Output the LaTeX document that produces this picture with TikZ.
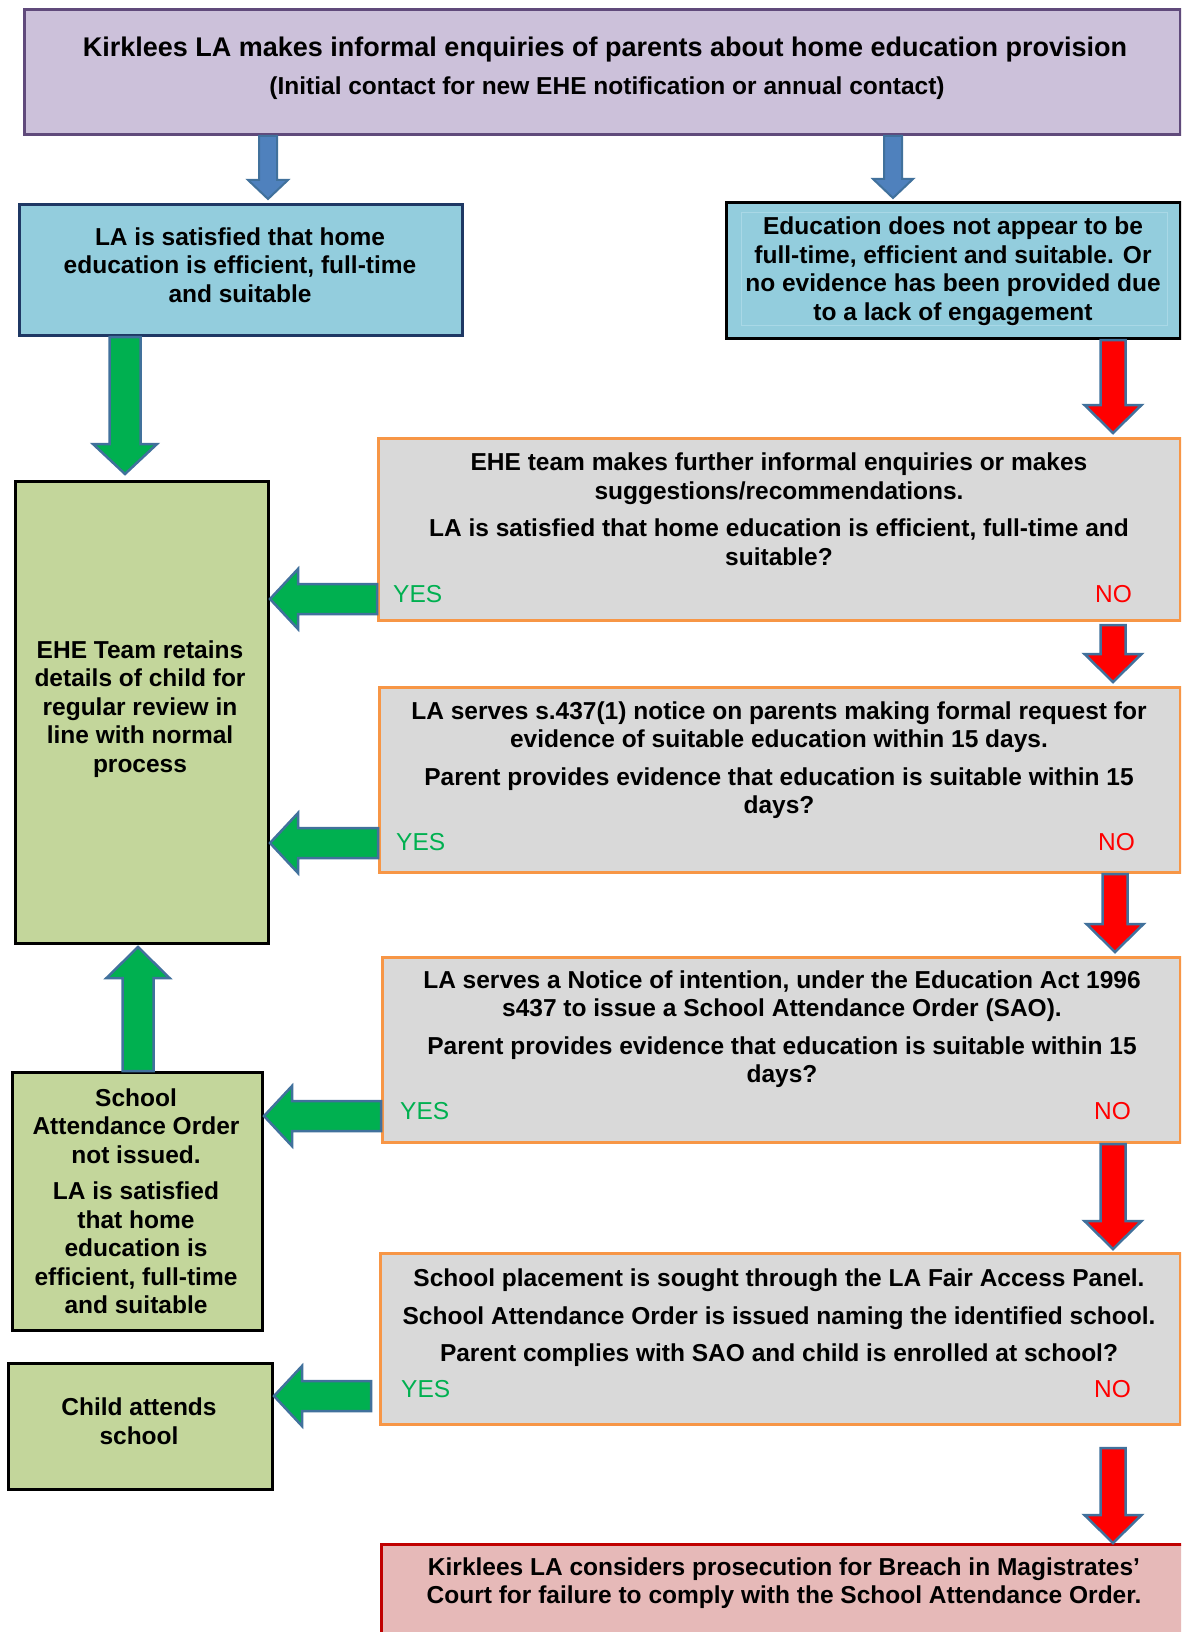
\documentclass[tikz,border=0pt]{standalone}
\usepackage{fontspec}
\setmainfont{Liberation Sans}
\usetikzlibrary{calc}
\definecolor{purpfill}{HTML}{CCC1DA}
\definecolor{purpline}{HTML}{604A7B}
\definecolor{aquafill}{HTML}{93CDDD}
\definecolor{navyline}{HTML}{1F3864}
\definecolor{aquainner}{HTML}{A9D8E6}
\definecolor{grayfill}{HTML}{D9D9D9}
\definecolor{orangeline}{HTML}{F79646}
\definecolor{greenfill}{HTML}{C3D69B}
\definecolor{pinkfill}{HTML}{E6B9B8}
\definecolor{darkred}{HTML}{C00000}
\definecolor{arrblue}{HTML}{4F81BD}
\definecolor{arroutline}{HTML}{41719C}
\definecolor{yesgreen}{HTML}{00B050}
\definecolor{nored}{HTML}{FF0000}
% vertical block arrow: style, from, to(tip), shaft half, head half, head length
\newcommand\vblock[6]{\draw[#1] let \p1=#2, \p2=#3, \n1={sign(\y2-\y1)} in
  ({\x1-#4},{\y1}) -- ({\x1-#4},{\y2-(\n1)*#6}) -- ({\x1-#5},{\y2-(\n1)*#6}) --
  ({\x1},{\y2}) -- ({\x1+#5},{\y2-(\n1)*#6}) -- ({\x1+#4},{\y2-(\n1)*#6}) --
  ({\x1+#4},{\y1}) -- cycle;}
% horizontal block arrow
\newcommand\hblock[6]{\draw[#1] let \p1=#2, \p2=#3, \n1={sign(\x2-\x1)} in
  ({\x1},{\y1-#4}) -- ({\x2-(\n1)*#6},{\y1-#4}) -- ({\x2-(\n1)*#6},{\y1-#5}) --
  ({\x2},{\y1}) -- ({\x2-(\n1)*#6},{\y1+#5}) -- ({\x2-(\n1)*#6},{\y1+#4}) --
  ({\x1},{\y1+#4}) -- cycle;}
\tikzset{
  box/.style={rectangle, line width=3pt, inner sep=0pt, anchor=north west},
  purplebox/.style={box, fill=purpfill, draw=purpline},
  aquabox/.style={box, fill=aquafill, draw=navyline},
  aquablackbox/.style={box, fill=aquafill, draw=black},
  graybox/.style={box, fill=grayfill, draw=orangeline},
  greenbox/.style={box, fill=greenfill, draw=black},
  pinkbox/.style={box, fill=pinkfill, draw=darkred},
  txt/.style={align=center, inner sep=0pt, font=\fontsize{24.5}{28.5}\selectfont\bfseries},
  yeslbl/.style={inner sep=0pt, text=yesgreen, font=\fontsize{24.5}{28}\selectfont, anchor=west},
  nolbl/.style={inner sep=0pt, text=nored, font=\fontsize{24.5}{28}\selectfont, anchor=east},
  barrow/.style={fill=arrblue, draw=arroutline, line width=2pt, line join=miter},
  garrow/.style={fill=yesgreen, draw=arroutline, line width=2.5pt, line join=miter},
  rarrow/.style={fill=nored, draw=arroutline, line width=2.5pt, line join=miter},
}
\begin{document}
\begin{tikzpicture}[x=1pt,y=-1pt]
\clip (0,0) rectangle (1181,1632);
\fill[white] (0,0) rectangle (1181,1632);

% boxes
\node[purplebox, minimum width=1156pt, minimum height=125pt] (top) at (23,8) {};
\node[aquabox, minimum width=443pt, minimum height=131pt] (lb) at (18,203) {};
\node[aquablackbox, minimum width=454pt, minimum height=136pt] (rb) at (725,201) {};
\draw[aquainner, line width=1pt] (741,212) rectangle (1167,325);
\node[graybox, minimum width=802pt, minimum height=182pt] (g1) at (377,437) {};
\node[greenbox, minimum width=253pt, minimum height=462pt] (gr1) at (14,480) {};
\node[graybox, minimum width=801pt, minimum height=185pt] (g2) at (378,686) {};
\node[graybox, minimum width=798pt, minimum height=185pt] (g3) at (381,956) {};
\node[greenbox, minimum width=250pt, minimum height=258pt] (gr2) at (11,1071) {};
\node[graybox, minimum width=800pt, minimum height=171pt] (g4) at (379,1252) {};
\node[greenbox, minimum width=264pt, minimum height=126pt] (gr3) at (7,1362) {};
\node[pinkbox, minimum width=810pt, minimum height=100pt] (rd) at (380,1543) {};

% texts
\node[txt, font=\fontsize{27}{30}\selectfont\bfseries] (toptxt1) at (605,50) {Kirklees LA makes informal enquiries of parents about home education provision};
\node[txt] (toptxt2) at (607,88) {(Initial contact for new EHE notification or annual contact)};
\node[txt] (lbtxt) at (240,265) {LA is satisfied that home\\education is efficient, full-time\\and suitable};
\node[txt] (rbtxt) at (953,271) {Education does not appear to be\\full-time, efficient and suitable. Or\\no evidence has been provided due\\to a lack of engagement};
\node[txt] (g1txt) at (779,509) {EHE team makes further informal enquiries or makes\\suggestions/recommendations.\\[9pt]LA is satisfied that home education is efficient, full-time and\\suitable?};
\node[yeslbl] (g1yes) at (393,594) {YES};
\node[nolbl] (g1no) at (1132,594) {NO};
\node[txt] (gr1txt) at (140,709) {EHE Team retains\\details of child for\\regular review in\\line with normal\\process};
\node[txt] (g2txt) at (779,760) {LA serves s.437(1) notice on parents making formal request for\\evidence of suitable education within 15 days.\\[9pt]Parent provides evidence that education is suitable within 15\\days?};
\node[yeslbl] (g2yes) at (396,842) {YES};
\node[nolbl] (g2no) at (1135,842) {NO};
\node[txt] (g3txt) at (782,1029) {LA serves a Notice of intention, under the Education Act 1996\\s437 to issue a School Attendance Order (SAO).\\[9pt]Parent provides evidence that education is suitable within 15\\days?};
\node[yeslbl] (g3yes) at (400,1111) {YES};
\node[nolbl] (g3no) at (1131,1111) {NO};
\node[txt] (gr2txt) at (136,1201) {School\\Attendance Order\\not issued.\\[8pt]LA is satisfied\\that home\\education is\\efficient, full-time\\and suitable};
\node[txt] (g4txt) at (779,1318) {School placement is sought through the LA Fair Access Panel.\\[9pt]School Attendance Order is issued naming the identified school.\\[9pt]Parent complies with SAO and child is enrolled at school?};
\node[yeslbl] (g4yes) at (401,1389) {YES};
\node[nolbl] (g4no) at (1131,1389) {NO};
\node[txt] (gr3txt) at (139,1421) {Child attends\\school};
\node[txt] (rdtxt) at (784,1583) {Kirklees LA considers prosecution for Breach in Magistrates’\\Court for failure to comply with the School Attendance Order.};

% reference coordinates for arrow lines
\coordinate (xa) at (268,0);
\coordinate (xb) at (893,0);
\coordinate (xr) at (1113,0);
\coordinate (xr3) at (1115,0);
\coordinate (xg) at (125,0);
\coordinate (xg2) at (138,0);
\coordinate (ya) at (0,599);
\coordinate (yb) at (0,843);
\coordinate (yc) at (0,1116);
\coordinate (yd) at (0,1396);

% blue arrows
\vblock{barrow}{(top.south -| xa)}{($(lb.north -| xa)+(0,-4)$)}{9pt}{20pt}{19pt}
\vblock{barrow}{(top.south -| xb)}{($(rb.north -| xb)+(0,-3)$)}{9pt}{20pt}{19pt}
% red arrows
\vblock{rarrow}{(rb.south -| xr)}{($(g1.north -| xr)+(0,-4)$)}{12.5pt}{28.5pt}{28pt}
\vblock{rarrow}{($(g1.south -| xr)+(0,3)$)}{($(g2.north -| xr)+(0,-4)$)}{12.5pt}{28.5pt}{28pt}
\vblock{rarrow}{(g2.south -| xr3)}{($(g3.north -| xr3)+(0,-4)$)}{12.5pt}{28.5pt}{28pt}
\vblock{rarrow}{(g3.south -| xr)}{($(g4.north -| xr)+(0,-3)$)}{12.5pt}{28.5pt}{28pt}
\vblock{rarrow}{($(g4.south -| xr)+(0,22)$)}{(rd.north -| xr)}{12.5pt}{28.5pt}{28pt}
% green arrows
\vblock{garrow}{(lb.south -| xg)}{($(gr1.north -| xg)+(0,-6)$)}{15.5pt}{32pt}{30pt}
\vblock{garrow}{(gr2.north -| xg2)}{($(gr1.south -| xg2)+(0,2)$)}{15.5pt}{31.5pt}{31pt}
\hblock{garrow}{(g1.west |- ya)}{(gr1.east |- ya)}{15pt}{30pt}{28pt}
\hblock{garrow}{(g2.west |- yb)}{(gr1.east |- yb)}{15pt}{30pt}{28pt}
\hblock{garrow}{(g3.west |- yc)}{(gr2.east |- yc)}{15pt}{30pt}{28pt}
\hblock{garrow}{($(g4.west |- yd)+(-8,0)$)}{(gr3.east |- yd)}{15pt}{30pt}{28pt}
\end{tikzpicture}
\end{document}
